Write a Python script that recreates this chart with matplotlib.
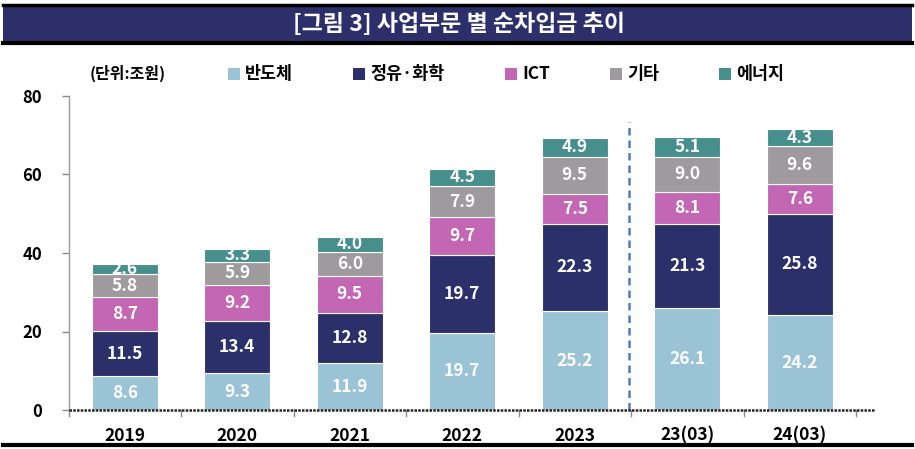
import matplotlib
matplotlib.use("Agg")
import matplotlib.pyplot as plt
from matplotlib.patches import Rectangle
from matplotlib.lines import Line2D
import numpy as np

plt.rcParams['font.family'] = ['Noto Sans CJK KR', 'DejaVu Sans']

categories = ['2019', '2020', '2021', '2022', '2023', '23(03)', '24(03)']
series_names = ['반도체', '정유·화학', 'ICT', '기타', '에너지']
semiconductor = [8.6, 9.3, 11.9, 19.7, 25.2, 26.1, 24.2]
petrochem = [11.5, 13.4, 12.8, 19.7, 22.3, 21.3, 25.8]
ict = [8.7, 9.2, 9.5, 9.7, 7.5, 8.1, 7.6]
others = [5.8, 5.9, 6.0, 7.9, 9.5, 9.0, 9.6]
energy = [2.6, 3.3, 4.0, 4.5, 4.9, 5.1, 4.3]
colors = ['#9AC3D5', '#2C306A', '#C367B4', '#9E9A9E', '#468F8C']
yticks = [0, 20, 40, 60, 80]
title = '[그림 3] 사업부문 별 순차입금 추이'
unit_label = '(단위:조원)'

W, H = 915, 449
fig = plt.figure(figsize=(W / 100, H / 100), dpi=100)

# title band
fig.patches.append(Rectangle((3 / W, 1 - 44 / H), 909 / W, 39 / H, transform=fig.transFigure,
                             facecolor='#2D2F6B', edgecolor='none', zorder=0))
fig.lines.append(Line2D([3 / W, 912 / W], [1 - 5 / H, 1 - 5 / H], transform=fig.transFigure,
                        color='black', lw=2.5))
fig.lines.append(Line2D([3 / W, 912 / W], [1 - 43 / H, 1 - 43 / H], transform=fig.transFigure,
                        color='black', lw=3))
fig.text(459 / W, 1 - 24 / H, title, color='white', fontsize=16.5, fontweight='bold',
         ha='center', va='center')
fig.lines.append(Line2D([3 / W, 912 / W], [1 - 445 / H, 1 - 445 / H], transform=fig.transFigure,
                        color='black', lw=3))

left, right = 68.5 / W, 874 / W
bottom, top = 1 - 410 / H, 1 - 96 / H
ax = fig.add_axes([left, bottom, right - left, top - bottom])

x = np.arange(len(categories))
series = [semiconductor, petrochem, ict, others, energy]
base = np.zeros(len(categories))
for vals, col in zip(series, colors):
    vals = np.array(vals)
    ax.bar(x, vals, width=0.588, bottom=base, color=col, edgecolor='white', linewidth=0.8, zorder=2)
    for xi, b, v in zip(x, base, vals):
        ax.text(xi, b + v / 2, f'{v:.1f}', color='white', fontsize=12.5, fontweight='bold',
                ha='center', va='center', zorder=3)
    base = base + vals

ax.set_xlim(-0.5, 6.66)
ax.set_ylim(0, 80)
ax.set_yticks(yticks)
ax.set_yticklabels([str(t) for t in yticks], fontsize=12, fontweight='bold')
ax.tick_params(axis='y', length=5, color='#888888', pad=14, width=1)
ax.set_xticks(x)
ax.set_xticklabels(categories, fontsize=12.5, fontweight='bold')
ax.tick_params(axis='x', length=0, pad=12)
# boundary ticks on x axis
for b in np.arange(-0.5, 7, 1.0):
    ax.plot([b, b], [0, -1.6], color='#888888', lw=1, clip_on=False, zorder=1)

for s in ['top', 'right']:
    ax.spines[s].set_visible(False)
ax.spines['left'].set_color('#999999')
ax.spines['left'].set_linewidth(1)
ax.spines['bottom'].set_visible(False)
ax.plot([-0.5, 6.66], [0, 0], color='#222222', lw=1.8, linestyle=(0, (1, 0.5)),
        clip_on=False, zorder=4)

# dashed separator
ax.plot([4.48, 4.48], [0, 73.5], color='#4F7CC0', lw=1.8, linestyle=(0, (3, 2)), zorder=1)

# unit label & legend
fig.text(128 / W, 1 - 73 / H, unit_label, fontsize=11.5, fontweight='bold', ha='center', va='center')
leg_sq = [228, 353, 505, 610, 719]
for sx, col, name in zip(leg_sq, colors, series_names):
    fig.patches.append(Rectangle((sx / W, 1 - 80 / H), 12 / W, 12 / H, transform=fig.transFigure,
                                 facecolor=col, edgecolor='none'))
    fig.text((sx + 17) / W, 1 - 74 / H, name, fontsize=12.5, fontweight='bold', ha='left', va='center')

fig.savefig('out.png', dpi=100)
